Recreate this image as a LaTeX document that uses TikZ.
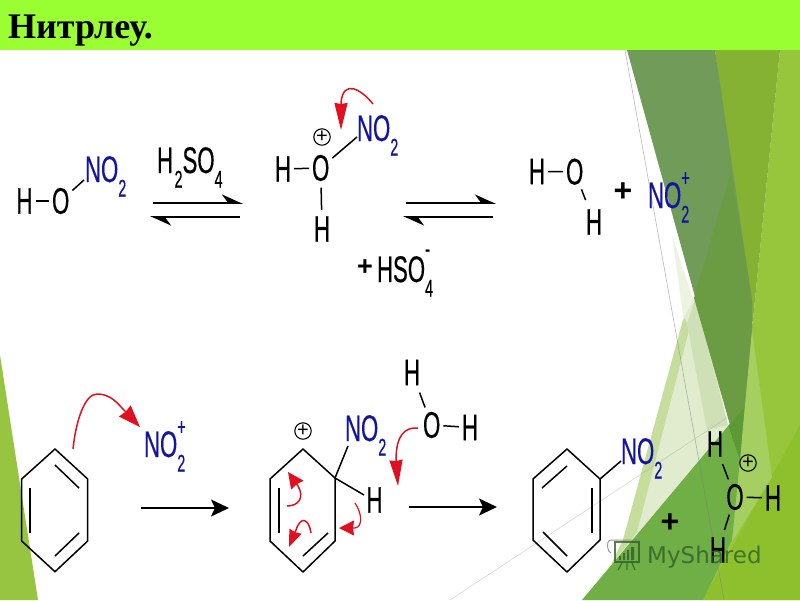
\documentclass[tikz,border=0pt]{standalone}
\usepackage{graphicx}
\usepackage{fontspec}
\setmainfont{Liberation Sans}
\newfontfamily\titlefont{Liberation Serif}
\newfontfamily\wmfont{DejaVu Sans}
\newfontfamily\chemfont[FakeBold=.6]{Liberation Sans}
\usetikzlibrary{arrows.meta}
\definecolor{chemblue}{HTML}{1414A0}
\definecolor{chemred}{HTML}{E01020}
\definecolor{bandgreen}{HTML}{99FF33}
\definecolor{wmgreen}{HTML}{2F5F2A}
\definecolor{bgleft}{HTML}{97C441}
\definecolor{bgD}{HTML}{97C63C}
\definecolor{bgDb}{HTML}{8DC02C}
\definecolor{bgC}{HTML}{86B233}
\definecolor{bgA}{HTML}{709B58}
\definecolor{bgAb}{HTML}{6B9C44}
\definecolor{bgE}{HTML}{70AF45}
\definecolor{bgT}{HTML}{5B9A35}
\definecolor{bgF}{HTML}{A6CF62}
\definecolor{bgG}{HTML}{E0ECCD}
\definecolor{bgGa}{HTML}{C5DE9E}
\definecolor{bgGb}{HTML}{CFE0B6}
\newcommand\chemtxt[1]{\scalebox{.6}[1]{\chemfont\fontsize{37}{37}\selectfont #1}}
\newcommand\chemsub[1]{\raisebox{-14.5pt}{\scalebox{.6}[1]{\chemfont\fontsize{24}{24}\selectfont #1}}}
\newcommand\chemsup[2]{\rlap{\raisebox{#1}{\scalebox{.6}[1]{\chemfont\fontsize{24}{24}\selectfont #2}}}}
\newcommand\nitro{\chemtxt{NO}\chemsub{2}}
\newcommand\nitrop{\chemtxt{NO}\chemsup{22pt}{+}\chemsub{2}}
\tikzset{
  atom/.style={inner xsep=3pt,inner ysep=4.5pt,outer sep=0pt,text=black},
  group/.style={inner sep=0pt,outer sep=0pt,anchor=base west},
  bond/.style={line width=1.5pt,black},
  ringline/.style={line width=1.5pt,black,line join=round},
  eqarrow/.style={line width=1.8pt,black,-{Stealth[harpoon,length=19pt,width=17pt]}},
  rxarrow/.style={line width=1.8pt,black,-{Stealth[length=18pt,width=17pt,inset=4pt]}},
  redcurve/.style={line width=1.5pt,chemred},
  charge/.style={circle,draw=black,line width=1.1pt,minimum size=16pt,inner sep=0pt,outer sep=0pt,font=\fontsize{20}{20}\selectfont},
  bigplus/.style={inner sep=0pt,font=\fontsize{32}{32}\selectfont\bfseries},
  smallplus/.style={inner sep=0pt,font=\fontsize{27}{27}\selectfont\bfseries},
}
\begin{document}
\begin{tikzpicture}[x=1pt,y=-1pt]
\useasboundingbox (0,0) rectangle (800,600);
% ---------- background ----------
\fill[white] (0,0) rectangle (800,600);
\fill[bgleft] (0,355) -- (38,600) -- (0,600) -- cycle;
\fill[bgD] (780,50) -- (800,50) -- (800,600) -- (703,600) -- (753,320) -- cycle;
\fill[bgDb] (800,425) -- (800,600) -- (703,600) -- cycle;
\fill[bgC] (715,50) -- (780,50) -- (753,320) -- (750,330) -- cycle;
\fill[bgG!60!white] (672,235) -- (695,305) -- (684,322) -- cycle;
\fill[bgG] (693,300) -- (700,300) -- (728,426) -- (611,565) -- (623,540) -- (683,320) -- cycle;
\fill[bgGa] (685,318) -- (689,330) -- (637,532) -- (611,565) -- (623,540) -- (683,320) -- cycle;
\fill[bgGb] (687,323) -- (695,300) -- (728,425) -- (707,430) -- cycle;
\fill[bgA] (627,50) -- (715,50) -- (752,300) -- (752,330) -- (740,460) -- cycle;
\fill[bgAb] (731,172) -- (752,300) -- (752,330) -- (740,460) -- (694,298) -- cycle;
\fill[bgF] (752,330) -- (772,477) -- (727,550) -- (740,460) -- cycle;
\fill[bgE] (582,600) -- (728,426) -- (740,460) -- (732,540) -- (727,550) -- (703,600) -- cycle;
\fill[bgT] (728,426) -- (744,408) -- (740,460) -- cycle;
\draw[line width=.6pt,gray,opacity=.55] (625,50) -- (724,600);
\draw[line width=.6pt,gray,opacity=.3] (450,600) -- (728,417);
% ---------- title band ----------
\fill[bandgreen] (0,0) rectangle (800,50);
\node[inner sep=0pt,anchor=base west,font=\titlefont\bfseries\fontsize{36}{36}\selectfont,text=black] (title) at (8,38) {Нитрлеу.};
% ---------- first row: nitric acid ----------
\node[atom] (h1) at (24.5,201) {\chemtxt{H}};
\node[atom] (o1) at (60.7,201) {\chemtxt{O}};
\node[group,text=chemblue] (n1) at (85,182) {\nitro};
\coordinate (n1a) at (84,180);
\draw[bond] (h1) -- (o1);
\draw[bond] (o1) -- (n1a);
\node[group,text=black] (acid) at (157,173) {\chemtxt{H}\kern1.5pt\chemsub{2}\chemtxt{SO}\chemsub{4}};
\coordinate (e1a) at (153,203); \coordinate (e1b) at (243,203);
\coordinate (e1c) at (240,217); \coordinate (e1d) at (150,217);
\draw[eqarrow] (e1a) -- (e1b);
\draw[eqarrow] (e1c) -- (e1d);
% protonated acid
\node[atom] (h2) at (283,169) {\chemtxt{H}};
\node[atom] (o2) at (320.7,168) {\chemtxt{O}};
\node[atom] (h3) at (322,229) {\chemtxt{H}};
\node[group,text=chemblue] (n2) at (357,141) {\nitro};
\coordinate (n2a) at (357,137);
\node[charge] (c2) at (322,137) {+};
\draw[bond] (h2) -- (o2);
\draw[bond] (o2) -- (n2a);
\draw[bond,shorten <=2pt,shorten >=2pt] (o2) -- (h3);
\coordinate (r1s) at (373,104); \coordinate (r1t) at (341,130);
\draw[redcurve,-{Stealth[length=27pt,width=13pt,inset=1pt]}] (r1s) .. controls (362,90) and (343,78) .. (341,103) -- (r1t);
\node[smallplus] (p1) at (365,268) {+};
\node[group,text=black] (hso) at (377,282) {\chemtxt{HSO}\chemsup{25pt}{-}\chemsub{4}};
\coordinate (e2a) at (406,203); \coordinate (e2b) at (496,203);
\coordinate (e2c) at (493,217); \coordinate (e2d) at (403,217);
\draw[eqarrow] (e2a) -- (e2b);
\draw[eqarrow] (e2c) -- (e2d);
% water + nitronium
\node[atom] (h4) at (537,171.5) {\chemtxt{H}};
\node[atom] (o4) at (574.7,171.7) {\chemtxt{O}};
\node[atom] (h5) at (594,222) {\chemtxt{H}};
\draw[bond] (h4) -- (o4);
\draw[bond,shorten >=5pt] (o4) -- (h5);
\node[bigplus] (p2) at (623,192) {+};
\node[group,text=chemblue] (n3) at (648,208) {\nitrop};
% ---------- second row: benzene + nitronium ----------
\coordinate (a1) at (55,449); \coordinate (a2) at (87.7,479); \coordinate (a3) at (87.7,541);
\coordinate (a4) at (55,571.7); \coordinate (a5) at (21.7,541); \coordinate (a6) at (21.7,479);
\draw[ringline] (a1) -- (a2) -- (a3) -- (a4) -- (a5) -- (a6) -- cycle;
\coordinate (a7) at (55,465); \coordinate (a8) at (79,488);
\coordinate (a9) at (30,488); \coordinate (a10) at (30,533);
\coordinate (a11) at (55,556); \coordinate (a12) at (79,533);
\draw[bond] (a7) -- (a8); \draw[bond] (a9) -- (a10); \draw[bond] (a11) -- (a12);
\coordinate (r2s) at (73,449); \coordinate (r2t) at (140,427);
\draw[redcurve,-{Stealth[length=22pt,width=16pt,inset=1pt]}] (r2s) .. controls (76,420) and (85,394) .. (97,394) .. controls (108,394) and (115,400) .. (122,408) -- (r2t);
\node[group,text=chemblue] (n4) at (144,457) {\nitrop};
\coordinate (x1a) at (141,508); \coordinate (x1b) at (229,508);
\draw[rxarrow] (x1a) -- (x1b);
% ---------- arenium ion ----------
\coordinate (b1) at (303,449); \coordinate (b2) at (335,478); \coordinate (b3) at (335,541);
\coordinate (b4) at (303,572); \coordinate (b5) at (270,541); \coordinate (b6) at (270,479);
\draw[ringline] (b1) -- (b2) -- (b3) -- (b4) -- (b5) -- (b6) -- cycle;
\coordinate (b7) at (279,488); \coordinate (b8) at (279,533);
\coordinate (b9) at (303,556); \coordinate (b10) at (328,533);
\draw[bond] (b7) -- (b8); \draw[bond] (b9) -- (b10);
\node[charge] (c3) at (303,431) {+};
\node[group,text=chemblue] (n5) at (345,441) {\nitro};
\coordinate (n5a) at (348,446);
\node[atom] (h6) at (374.5,500) {\chemtxt{H}};
\coordinate (h6a) at (364,495);
\draw[bond] (b2) -- (n5a);
\draw[bond] (b2) -- (h6a);
\coordinate (r3s) at (287,506); \coordinate (r3t) at (288,472);
\draw[redcurve,-{Stealth[length=16pt,width=15pt,inset=1pt]}] (r3s) .. controls (298,506) and (305,498) .. (298,486) -- (r3t);
\coordinate (r4s) at (311,533); \coordinate (r4t) at (289,547);
\draw[redcurve,-{Stealth[length=17pt,width=13pt,inset=1pt]}] (r4s) .. controls (309,519) and (301,515) .. (296,530) -- (r4t);
\coordinate (r5s) at (355,503); \coordinate (r5t) at (339,528);
\draw[redcurve,line width=1.2pt,-{Stealth[length=15pt,width=15pt,inset=1pt]}] (r5s) .. controls (362,513) and (363,527) .. (355,528) -- (r5t);
% water attacking
\node[atom] (h7) at (412,372.5) {\chemtxt{H}};
\node[atom] (o7) at (431.7,425) {\chemtxt{O}};
\node[atom] (h8) at (470,427.5) {\chemtxt{H}};
\draw[bond,shorten <=3pt] (h7) -- (o7);
\draw[bond] (o7) -- (h8);
\coordinate (r6s) at (418,428); \coordinate (r6t) at (398,486);
\draw[redcurve,-{Stealth[length=26pt,width=13pt,inset=1pt]}] (r6s) .. controls (405,427) and (396,435) .. (396,460) -- (r6t);
\coordinate (x2a) at (409,507); \coordinate (x2b) at (497,507);
\draw[rxarrow] (x2a) -- (x2b);
% ---------- nitrobenzene ----------
\coordinate (d1) at (567,449); \coordinate (d2) at (600,479); \coordinate (d3) at (600,540);
\coordinate (d4) at (567,572); \coordinate (d5) at (533,540); \coordinate (d6) at (533,479);
\draw[ringline] (d1) -- (d2) -- (d3) -- (d4) -- (d5) -- (d6) -- cycle;
\coordinate (d7) at (542,488); \coordinate (d8) at (567,466);
\coordinate (d9) at (592,488); \coordinate (d10) at (592,533);
\coordinate (d11) at (543,532); \coordinate (d12) at (567,556);
\draw[bond] (d7) -- (d8); \draw[bond] (d9) -- (d10); \draw[bond] (d11) -- (d12);
\node[group,text=chemblue] (n6) at (621,464) {\nitro};
\coordinate (n6a) at (621,461);
\draw[bond] (d2) -- (n6a);
\node[bigplus] (p3) at (670,523) {+};
% hydronium
\node[atom] (h9) at (715,444) {\chemtxt{H}};
\node[atom] (o9) at (735,497) {\chemtxt{O}};
\node[atom] (h10) at (773,498) {\chemtxt{H}};
\node[atom] (h11) at (718,550) {\chemtxt{H}};
\node[charge] (c9) at (748,463) {+};
\draw[bond,shorten <=3pt] (h9) -- (o9);
\draw[bond] (o9) -- (h10);
\draw[bond,shorten >=3pt] (o9) -- (h11);
% ---------- watermark ----------
\begin{scope}[opacity=.8]
\draw[line width=2pt,wmgreen] (615,542) rectangle (639,562);
\draw[line width=1pt,gray] (640,540) -- (610,540) .. controls (606,541) and (607,552) .. (611,553);
\fill[wmgreen] (619,556) rectangle (621,560) (623,553) rectangle (625,560) (627,550) rectangle (629,560) (631,547) rectangle (634,560);
\draw[line width=1.2pt,wmgreen] (622,563) -- (618,570) (627,563) -- (627,570) (632,563) -- (635,570);
\node[inner sep=0pt,anchor=base west,text=wmgreen,font=\wmfont\fontsize{23}{23}\selectfont] (wm) at (647,563) {MyShared};
\end{scope}
\end{tikzpicture}
\end{document}
